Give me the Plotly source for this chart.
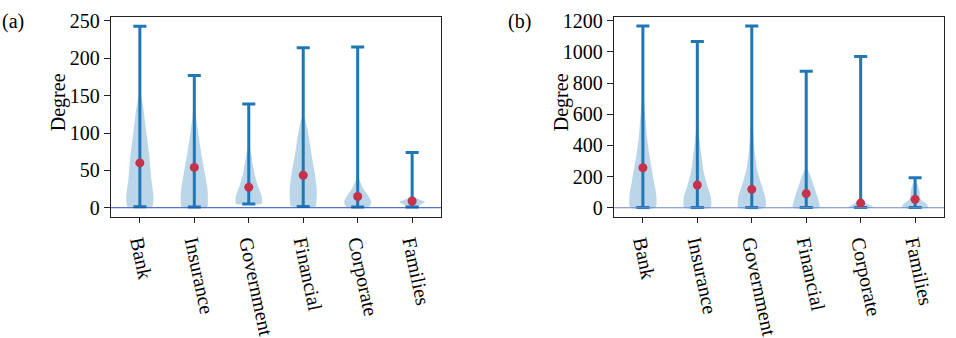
import plotly.graph_objects as go

# ---------------- data ----------------
categories = ["Bank", "Insurance", "Government", "Financial", "Corporate", "Families"]
positions = [1, 2, 3, 4, 5, 6]

# panel (a)
a_min = [1.2, 1, 5, 1.5, 1, 1]
a_max = [243, 177, 139, 214, 215, 74]
a_mean = [60, 54, 27.4, 43.4, 15, 9]
a_levels = [
    [1.2, 2, 14, 39, 72, 100, 130, 146, 154],
    [1, 2, 22.5, 47, 72, 96, 121, 149],
    [5, 6, 14.3, 31, 47.6, 68.5, 88],
    [1.5, 2.8, 22.5, 47.6, 72, 96, 117, 125],
    [1, 2, 8, 16.4, 24.6, 32.7, 43],
    [1, 4, 7.7, 10, 12.3, 15],
]
a_halfw = [
    [0.22, 0.235, 0.25, 0.21, 0.17, 0.12, 0.07, 0.035, 0.0],
    [0.235, 0.245, 0.245, 0.19, 0.13, 0.08, 0.035, 0.0],
    [0.235, 0.24, 0.24, 0.16, 0.1, 0.05, 0.0],
    [0.225, 0.235, 0.25, 0.21, 0.15, 0.1, 0.04, 0.0],
    [0.2, 0.22, 0.25, 0.19, 0.11, 0.06, 0.0],
    [0.1, 0.15, 0.235, 0.16, 0.09, 0.0],
]

# panel (b)
b_min = [1, 1, 1, 1, 1, 1]
b_max = [1166, 1066, 1166, 876, 971, 192]
b_mean = [257, 146, 118, 91, 30, 54]
b_levels = [
    [1, 85, 164, 263, 361, 460, 559, 657, 716, 800],
    [1, 65, 144, 243, 342, 440, 539, 600],
    [1, 65, 144, 243, 342, 440, 539, 637, 700],
    [1, 40, 100, 150, 200, 240, 270],
    [1, 22, 36, 55],
    [1, 26, 45, 65, 95, 124, 154, 174],
]
b_halfw = [
    [0.23, 0.245, 0.205, 0.156, 0.11, 0.073, 0.05, 0.027, 0.01, 0.0],
    [0.24, 0.25, 0.18, 0.11, 0.073, 0.04, 0.01, 0.0],
    [0.245, 0.25, 0.18, 0.1, 0.06, 0.035, 0.02, 0.008, 0.0],
    [0.245, 0.23, 0.18, 0.13, 0.08, 0.035, 0.0],
    [0.235, 0.14, 0.07, 0.0],
    [0.235, 0.21, 0.13, 0.09, 0.085, 0.07, 0.04, 0.0],
]

a_ticks = [0, 50, 100, 150, 200, 250]
b_ticks = [0, 200, 400, 600, 800, 1000, 1200]

# ---------------- style ----------------
BLUE = "#1f77b4"
FILL = "rgba(31,119,180,0.3)"
RED = "#c5324c"
FONT = "Liberation Serif, Times New Roman, serif"
CAP = 0.12

fig = go.Figure()


def add_panel(xa, ya, mins, maxs, means, levels, halfw):
    for p, lv, hw in zip(positions, levels, halfw):
        xs = [p + w for w in hw] + [p - w for w in reversed(hw)] + [p + hw[0]]
        ys = list(lv) + list(reversed(lv)) + [lv[0]]
        fig.add_trace(go.Scatter(
            x=xs, y=ys, xaxis=xa, yaxis=ya, mode="lines", fill="toself",
            fillcolor=FILL, line=dict(width=0, shape="spline", smoothing=0.7),
            hoverinfo="skip", showlegend=False))
    sx, sy = [], []
    for p, lo, hi in zip(positions, mins, maxs):
        sx += [p, p, None, p - CAP, p + CAP, None, p - CAP, p + CAP, None]
        sy += [lo, hi, None, lo, lo, None, hi, hi, None]
    fig.add_trace(go.Scatter(x=sx, y=sy, xaxis=xa, yaxis=ya, mode="lines",
                             line=dict(color=BLUE, width=3), hoverinfo="skip",
                             showlegend=False))
    fig.add_trace(go.Scatter(x=positions, y=means, xaxis=xa, yaxis=ya,
                             mode="markers",
                             marker=dict(color=RED, size=9, line=dict(width=0)),
                             showlegend=False))


add_panel("x", "y", a_min, a_max, a_mean, a_levels, a_halfw)
add_panel("x2", "y2", b_min, b_max, b_mean, b_levels, b_halfw)

xcommon = dict(range=[0.47, 6.53], tickvals=positions, ticktext=categories,
               tickangle=78, ticks="outside", ticklen=5, tickwidth=1.2,
               tickcolor="#222", showline=True, linecolor="#222", linewidth=1.4,
               mirror=True, showgrid=False, zeroline=False,
               tickfont=dict(family=FONT, size=20, color="black"))
ycommon = dict(ticks="outside", ticklen=6, tickwidth=1.2, tickcolor="#222",
               showline=True, linecolor="#222", linewidth=1.4, mirror=True,
               showgrid=False, zeroline=False,
               tickfont=dict(family=FONT, size=20, color="black"))

fig.update_layout(
    width=956, height=338, margin=dict(l=0, r=0, t=0, b=0),
    paper_bgcolor="white", plot_bgcolor="white",
    xaxis=dict(domain=[0.1161, 0.4613], anchor="y", **xcommon),
    xaxis2=dict(domain=[0.6423, 0.9874], anchor="y2", **xcommon),
    yaxis=dict(domain=[0.3254, 0.9675], anchor="x", range=[-12.15, 255.15],
               tickvals=a_ticks, **ycommon),
    yaxis2=dict(domain=[0.3254, 0.9675], anchor="x2", range=[-58, 1223],
                tickvals=b_ticks, **ycommon),
    shapes=[
        dict(type="line", xref="x domain", yref="y", x0=0, x1=1, y0=0, y1=0,
             line=dict(color="#2a4db5", width=1)),
        dict(type="line", xref="x2 domain", yref="y2", x0=0, x1=1, y0=0, y1=0,
             line=dict(color="#6f86cc", width=1)),
    ],
    annotations=[
        dict(text="(a)", xref="paper", yref="paper", x=0.0, y=1 - 16 / 338,
             xanchor="left", yanchor="middle", showarrow=False,
             font=dict(family=FONT, size=20, color="black")),
        dict(text="(b)", xref="paper", yref="paper", x=506 / 956, y=1 - 16 / 338,
             xanchor="left", yanchor="middle", showarrow=False,
             font=dict(family=FONT, size=20, color="black")),
        dict(text="Degree", xref="paper", yref="paper", x=58 / 956,
             y=1 - 103.5 / 338, textangle=-90, xanchor="center",
             yanchor="middle", showarrow=False,
             font=dict(family=FONT, size=20, color="black")),
        dict(text="Degree", xref="paper", yref="paper", x=561 / 956,
             y=1 - 103.5 / 338, textangle=-90, xanchor="center",
             yanchor="middle", showarrow=False,
             font=dict(family=FONT, size=20, color="black")),
    ],
)

fig.write_html("out.html")
